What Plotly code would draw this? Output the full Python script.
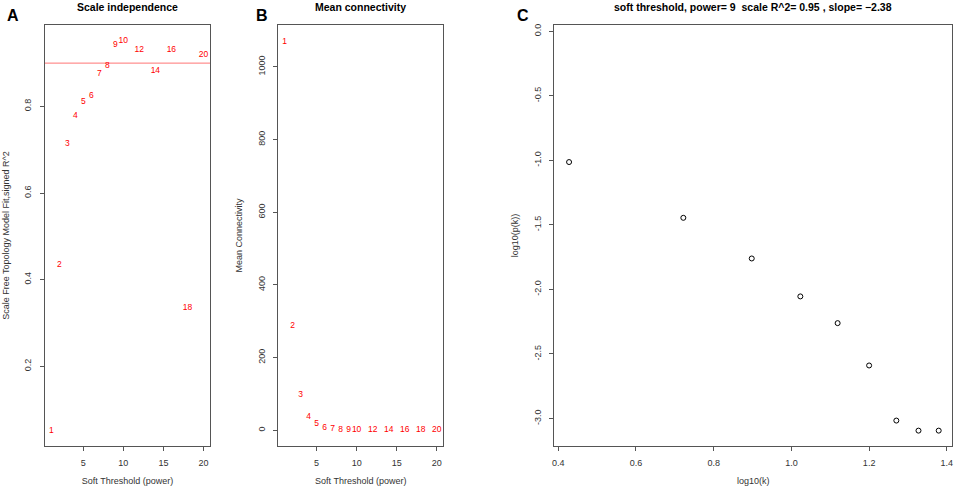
import plotly.graph_objects as go

# panel A / B: soft-threshold powers
powers = [1, 2, 3, 4, 5, 6, 7, 8, 9, 10, 12, 14, 16, 18, 20]
sft_r2 = [0.052, 0.434, 0.714, 0.778, 0.810, 0.825, 0.875, 0.894, 0.942, 0.951,
          0.930, 0.881, 0.930, 0.334, 0.920]
mean_k = [1069, 287, 97, 37, 16.5, 7, 3, 1.5, 0.8, 0.5, 0.2, 0.1, 0.05, 0.03, 0.02]
r2_cut = 0.9

# panel C: scale free fit for power 9
log_k = [0.428, 0.722, 0.898, 1.023, 1.119, 1.200, 1.270, 1.327, 1.379]
log_pk = [-1.013, -1.445, -1.760, -2.054, -2.261, -2.589, -3.016, -3.094, -3.094]

W, H = 957, 486
FONT = "Liberation Sans"
red = "#ff0000"

def px(x):
    return x / W

def py(y):
    return 1 - y / H

ydom = [py(446), py(25)]

fig = go.Figure()
fig.add_trace(go.Scatter(x=powers, y=sft_r2, mode="text", text=[str(p) for p in powers],
                         textfont=dict(color=red, size=8.5, family=FONT),
                         xaxis="x", yaxis="y", hoverinfo="x+y"))
fig.add_trace(go.Scatter(x=powers, y=mean_k, mode="text", text=[str(p) for p in powers],
                         textfont=dict(color=red, size=8.5, family=FONT),
                         xaxis="x2", yaxis="y2", hoverinfo="x+y"))
fig.add_trace(go.Scatter(x=log_k, y=log_pk, mode="markers",
                         marker=dict(symbol="circle-open", size=5, color="black",
                                     line=dict(width=1, color="black")),
                         xaxis="x3", yaxis="y3"))

ax = dict(showline=True, mirror=True, linecolor="#555", linewidth=1,
          ticks="outside", ticklen=4, tickcolor="#555", showgrid=False,
          zeroline=False, automargin=False,
          tickfont=dict(size=9, color="#333", family=FONT))
tfont = dict(size=9, color="#333", family=FONT)

fig.update_layout(
    width=W, height=H, margin=dict(l=0, r=0, t=0, b=0),
    paper_bgcolor="white", plot_bgcolor="white", showlegend=False,
    font=dict(family=FONT),
    xaxis=dict(ax, domain=[px(45), px(210)], range=[0.22, 20.82], anchor="y",
               tickvals=[5, 10, 15, 20], ticklabelstandoff=4,
               title=dict(text="Soft Threshold (power)", font=tfont, standoff=10)),
    yaxis=dict(ax, domain=ydom, range=[0.016, 0.988], anchor="x",
               tickvals=[0.2, 0.4, 0.6, 0.8], ticktext=["0.2", "0.4", "0.6", "0.8"],
               tickangle=-90, ticklabelstandoff=5,
               title=dict(text="Scale Free Topology Model Fit,signed R^2", font=tfont, standoff=12)),
    xaxis2=dict(ax, domain=[px(278.3), px(443.3)], range=[0.22, 20.82], anchor="y2",
                tickvals=[5, 10, 15, 20], ticklabelstandoff=4,
                title=dict(text="Soft Threshold (power)", font=tfont, standoff=10)),
    yaxis2=dict(ax, domain=ydom, range=[-43, 1115], anchor="x2",
                tickvals=[0, 200, 400, 600, 800, 1000],
                tickangle=-90, ticklabelstandoff=5,
                title=dict(text="Mean Connectivity", font=tfont, standoff=12)),
    xaxis3=dict(ax, domain=[px(554.3), px(952.3)], range=[0.39, 1.414], anchor="y3",
                tickvals=[0.4, 0.6, 0.8, 1.0, 1.2, 1.4],
                ticktext=["0.4", "0.6", "0.8", "1.0", "1.2", "1.4"], ticklabelstandoff=4,
                title=dict(text="log10(k)", font=tfont, standoff=10)),
    yaxis3=dict(ax, domain=ydom, range=[-3.213, 0.049], anchor="x3",
                tickvals=[0, -0.5, -1, -1.5, -2, -2.5, -3],
                ticktext=["0.0", "-0.5", "-1.0", "-1.5", "-2.0", "-2.5", "-3.0"],
                tickangle=-90, ticklabelstandoff=5,
                title=dict(text="log10(p(k))", font=tfont, standoff=12)),
    shapes=[dict(type="line", xref="x domain", yref="y", x0=0, x1=1, y0=r2_cut, y1=r2_cut,
                 line=dict(color="rgba(255,0,0,0.55)", width=1))],
)

titles = [("Scale independence", (45 + 210) / 2),
          ("Mean connectivity", (278.3 + 443.3) / 2),
          ("soft threshold, power= 9  scale R^2= 0.95 , slope= \u22122.38", (554.3 + 952.3) / 2)]
for txt, cx in titles:
    fig.add_annotation(text="<b>%s</b>" % txt, x=px(cx), y=py(7.5), xref="paper", yref="paper",
                       showarrow=False, xanchor="center", yanchor="middle",
                       font=dict(size=10.5, color="black", family=FONT))

for letter, cx in [("A", 13), ("B", 261.7), ("C", 523)]:
    fig.add_annotation(text="<b>%s</b>" % letter, x=px(cx), y=py(15), xref="paper", yref="paper",
                       showarrow=False, xanchor="center", yanchor="middle",
                       font=dict(size=16, color="black", family=FONT))

# drop the browser's default 8px body margin so the figure sits at the window corner
fig.write_html("out.html", config={"displayModeBar": False},
               post_script="document.body.style.margin='0';")
